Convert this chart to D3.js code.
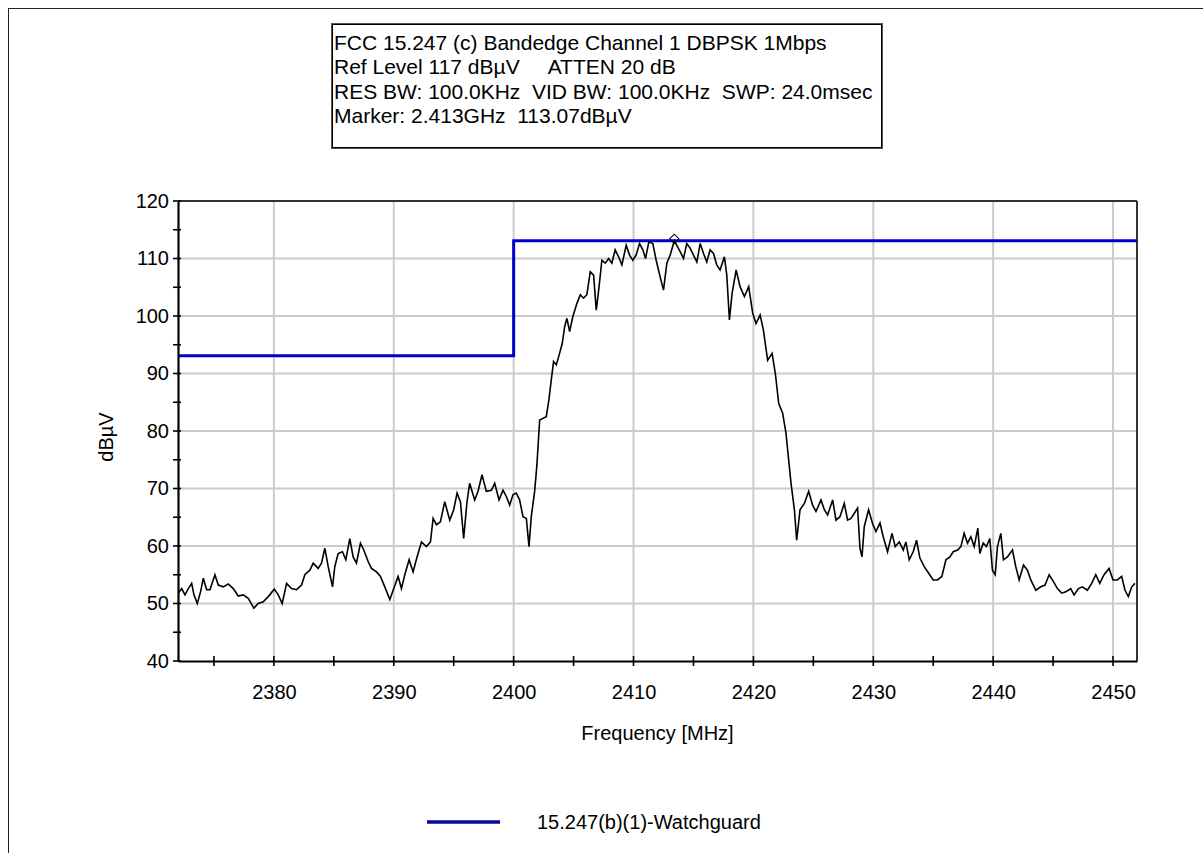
<!DOCTYPE html>
<html>
<head>
<meta charset="utf-8">
<script src="https://cdn.jsdelivr.net/npm/d3@7"></script>
<style>
  html, body { margin: 0; padding: 0; background: #fff; }
  svg { display: block; }
  text { font-family: "Liberation Sans", Arial, sans-serif; fill: #000; }
</style>
</head>
<body>
<svg id="chart" width="1203" height="853"></svg>
<script>
// ---------- data ----------
const headerLines = [
  "FCC 15.247 (c) Bandedge Channel 1 DBPSK 1Mbps",
  "Ref Level 117 dB\u00B5V     ATTEN 20 dB",
  "RES BW: 100.0KHz  VID BW: 100.0KHz  SWP: 24.0msec",
  "Marker: 2.413GHz  113.07dB\u00B5V"
];
const xTitle = "Frequency [MHz]";
const yTitle = "dB\u00B5V";
const legendLabel = "15.247(b)(1)-Watchguard";

const xDomain = [2372, 2452];
const yDomain = [40, 120];
const xTicks = [2380, 2390, 2400, 2410, 2420, 2430, 2440, 2450];
const xMinorTicks = [2375, 2385, 2395, 2405, 2415, 2425, 2435, 2445];
const yTicks = [40, 50, 60, 70, 80, 90, 100, 110, 120];
const yMinorTicks = [45, 55, 65, 75, 85, 95, 105, 115];

// measured trace: frequency (MHz)
const traceFreq = [
  2372.03, 2372.31, 2372.58, 2372.86, 2373.14, 2373.33, 2373.61, 2373.89, 2374.11, 2374.39,
  2374.67, 2375.08, 2375.36, 2375.78, 2376.19, 2376.61, 2377.03, 2377.44, 2377.86, 2378.33,
  2378.69, 2379.11, 2379.53, 2380.03, 2380.36, 2380.69, 2381.06, 2381.47, 2381.89, 2382.31,
  2382.58, 2383.00, 2383.28, 2383.69, 2383.97, 2384.25, 2384.53, 2384.89, 2385.08, 2385.36,
  2385.72, 2386.00, 2386.33, 2386.61, 2386.89, 2387.22, 2387.50, 2387.86, 2388.14, 2388.56,
  2388.89, 2389.25, 2389.67, 2390.00, 2390.36, 2390.64, 2390.92, 2391.28, 2391.61, 2391.94,
  2392.31, 2392.72, 2393.06, 2393.28, 2393.56, 2393.89, 2394.25, 2394.67, 2395.00, 2395.28,
  2395.56, 2395.83, 2396.11, 2396.33, 2396.75, 2397.03, 2397.36, 2397.72, 2398.14, 2398.42,
  2398.78, 2399.11, 2399.39, 2399.67, 2399.94, 2400.22, 2400.50, 2400.78, 2401.06, 2401.28,
  2401.47, 2401.75, 2401.94, 2402.17, 2402.44, 2402.72, 2402.94, 2403.14, 2403.33, 2403.56,
  2403.83, 2404.06, 2404.25, 2404.44, 2404.67, 2404.94, 2405.28, 2405.56, 2405.83, 2406.11,
  2406.39, 2406.67, 2406.89, 2407.11, 2407.36, 2407.64, 2407.92, 2408.19, 2408.47, 2408.75,
  2409.03, 2409.39, 2409.67, 2409.94, 2410.22, 2410.50, 2410.78, 2411.00, 2411.28, 2411.61,
  2411.89, 2412.22, 2412.50, 2412.78, 2413.06, 2413.40, 2413.61, 2413.89, 2414.17, 2414.44,
  2414.72, 2415.00, 2415.28, 2415.56, 2415.83, 2416.11, 2416.39, 2416.67, 2416.94, 2417.22,
  2417.58, 2417.78, 2418.00, 2418.22, 2418.56, 2418.89, 2419.25, 2419.61, 2419.94, 2420.22,
  2420.56, 2420.83, 2421.19, 2421.56, 2421.83, 2422.11, 2422.44, 2422.72, 2422.94, 2423.14,
  2423.42, 2423.61, 2423.89, 2424.25, 2424.61, 2424.94, 2425.22, 2425.64, 2425.92, 2426.19,
  2426.61, 2426.89, 2427.22, 2427.58, 2427.86, 2428.14, 2428.42, 2428.69, 2428.89, 2429.06,
  2429.25, 2429.61, 2429.94, 2430.22, 2430.56, 2430.83, 2431.19, 2431.56, 2431.83, 2432.17,
  2432.50, 2432.72, 2433.00, 2433.33, 2433.61, 2433.89, 2434.25, 2434.61, 2435.00, 2435.36,
  2435.72, 2436.06, 2436.39, 2436.67, 2437.03, 2437.31, 2437.58, 2437.86, 2438.14, 2438.42,
  2438.72, 2438.89, 2439.17, 2439.44, 2439.72, 2439.94, 2440.17, 2440.36, 2440.64, 2440.86,
  2441.19, 2441.61, 2441.89, 2442.17, 2442.53, 2442.86, 2443.14, 2443.56, 2443.97, 2444.33,
  2444.67, 2445.03, 2445.36, 2445.72, 2446.11, 2446.47, 2446.75, 2447.11, 2447.44, 2447.86,
  2448.22, 2448.56, 2448.89, 2449.25, 2449.67, 2450.00, 2450.36, 2450.72, 2451.00, 2451.28,
  2451.56, 2451.83
];
// measured trace: level (dBµV)
const traceLevel = [
  51.8, 52.6, 51.5, 52.6, 53.5, 51.5, 50.0, 52.1, 54.4, 52.4,
  52.4, 55.0, 53.2, 52.9, 53.4, 52.6, 51.3, 51.5, 50.9, 49.2,
  50.0, 50.3, 51.2, 52.5, 51.5, 50.0, 53.5, 52.6, 52.4, 53.2,
  55.0, 55.8, 57.0, 56.1, 57.0, 59.6, 56.4, 52.9, 56.4, 58.7,
  59.0, 57.6, 61.3, 58.1, 57.0, 60.5, 59.3, 57.3, 56.1, 55.5,
  54.7, 52.9, 50.7, 52.6, 54.7, 52.6, 55.0, 57.6, 55.5, 58.1,
  60.7, 59.9, 60.7, 64.8, 63.7, 64.2, 67.7, 64.5, 66.3, 69.2,
  67.7, 61.3, 67.7, 70.9, 68.0, 69.5, 72.4, 69.5, 69.7, 70.9,
  68.0, 69.7, 68.6, 67.1, 68.9, 69.2, 68.0, 65.1, 64.8, 59.9,
  65.1, 69.5, 74.1, 81.9, 82.2, 82.5, 85.4, 88.9, 92.1, 91.5,
  93.5, 95.3, 98.1, 99.6, 97.3, 99.9, 102.2, 103.7, 103.1, 103.7,
  107.7, 107.1, 101.0, 104.8, 109.7, 109.2, 110.0, 109.2, 111.5, 110.3,
  108.9, 112.3, 110.6, 109.7, 110.6, 112.6, 111.5, 110.0, 112.9, 112.6,
  109.7, 106.8, 104.5, 109.2, 110.6, 113.07, 112.3, 111.2, 110.0, 112.6,
  111.8, 110.6, 109.4, 112.6, 110.9, 109.4, 111.5, 110.9, 108.9, 108.0,
  110.3, 107.1, 99.3, 103.9, 108.0, 105.1, 103.4, 105.1, 100.5, 98.7,
  100.2, 97.6, 92.3, 93.5, 90.0, 84.8, 83.1, 79.6, 75.0, 70.9,
  66.3, 61.0, 66.3, 67.4, 69.5, 67.1, 66.0, 68.0, 66.3, 65.4,
  68.0, 64.5, 65.1, 67.4, 64.5, 64.8, 65.7, 66.6, 59.6, 58.1,
  63.4, 66.3, 63.9, 62.5, 64.0, 61.6, 59.0, 62.2, 59.9, 60.7,
  59.3, 60.7, 57.6, 59.0, 61.0, 57.9, 56.4, 55.3, 54.1, 54.1,
  54.7, 57.6, 58.1, 59.0, 59.3, 59.9, 62.2, 60.5, 61.6, 59.9,
  63.1, 58.7, 60.5, 59.9, 61.3, 55.8, 55.0, 59.9, 62.2, 57.6,
  58.1, 59.3, 56.4, 54.1, 56.7, 55.8, 54.1, 52.3, 52.9, 53.2,
  55.0, 53.8, 52.6, 51.8, 52.1, 52.6, 51.5, 52.6, 52.9, 52.3,
  53.5, 55.0, 53.5, 55.0, 56.1, 54.1, 54.1, 54.7, 52.3, 51.2,
  52.9, 53.5
];

// limit line (15.247(b)(1)-Watchguard)
const limitFreq = [2372, 2400, 2400, 2452];
const limitLevel = [93.07, 93.07, 113.07, 113.07];

// marker
const markerFreq = 2413.4;
const markerLevel = 113.07;

// ---------- layout ----------
const svg = d3.select("#chart");
const plot = { left: 178, top: 201, right: 1137, bottom: 661 };
const x = d3.scaleLinear().domain(xDomain).range([plot.left, plot.right]);
const y = d3.scaleLinear().domain(yDomain).range([plot.bottom, plot.top]);

// outer frame (left & top edges visible)
svg.append("line").attr("x1", 8.5).attr("x2", 8.5).attr("y1", 8).attr("y2", 853)
  .attr("stroke", "#222").attr("stroke-width", 1);
svg.append("line").attr("x1", 8).attr("x2", 1203).attr("y1", 8.5).attr("y2", 8.5)
  .attr("stroke", "#222").attr("stroke-width", 1);

// header box
const hb = { x: 331, y: 23, w: 551, h: 125 };
svg.append("rect").attr("x", hb.x + 0.5).attr("y", hb.y + 0.5)
  .attr("width", hb.w).attr("height", hb.h)
  .attr("fill", "#fff").attr("stroke", "#555").attr("stroke-width", 1);
svg.append("rect").attr("x", hb.x + 1.5).attr("y", hb.y + 1.5)
  .attr("width", hb.w - 2).attr("height", hb.h - 2)
  .attr("fill", "none").attr("stroke", "#000").attr("stroke-width", 1);
svg.append("g").selectAll("text").data(headerLines).join("text")
  .attr("x", hb.x + 3)
  .attr("y", (d, i) => 50 + i * 24.3)
  .attr("font-size", 21)
  .attr("xml:space", "preserve")
  .style("white-space", "pre")
  .text(d => d);

// grid
const grid = svg.append("g");
grid.selectAll("line.gx").data(xTicks).join("line")
  .attr("x1", d => x(d)).attr("x2", d => x(d))
  .attr("y1", plot.top).attr("y2", plot.bottom)
  .attr("stroke", "#cccccc").attr("stroke-width", 2);
grid.selectAll("line.gy").data(yTicks.filter(v => v > yDomain[0] && v < yDomain[1])).join("line")
  .attr("x1", plot.left).attr("x2", plot.right)
  .attr("y1", d => y(d)).attr("y2", d => y(d))
  .attr("stroke", "#cccccc").attr("stroke-width", 2);

// plot frame (top/right)
svg.append("line").attr("x1", plot.left).attr("x2", plot.right).attr("y1", plot.top).attr("y2", plot.top)
  .attr("stroke", "#333").attr("stroke-width", 2);
svg.append("line").attr("x1", plot.right).attr("x2", plot.right).attr("y1", plot.top).attr("y2", plot.bottom)
  .attr("stroke", "#333").attr("stroke-width", 2);

// limit line
const limitData = limitFreq.map((f, i) => [f, limitLevel[i]]);
svg.append("path").datum(limitData)
  .attr("fill", "none").attr("stroke", "#0000cc").attr("stroke-width", 3)
  .attr("d", d3.line().x(d => x(d[0])).y(d => y(d[1])));

// trace
const traceData = traceFreq.map((f, i) => [f, traceLevel[i]]);
svg.append("path").datum(traceData)
  .attr("fill", "none").attr("stroke", "#000").attr("stroke-width", 1.6)
  .attr("stroke-linejoin", "miter")
  .attr("d", d3.line().x(d => x(d[0])).y(d => y(d[1])));

// marker diamond
svg.append("path")
  .attr("transform", `translate(${x(markerFreq)},${y(markerLevel) - 2}) rotate(45)`)
  .attr("d", d3.symbol().type(d3.symbolSquare).size(42)())
  .attr("fill", "none").attr("stroke", "#000").attr("stroke-width", 1);

// axes
const fmt = d3.format("d");
const xAxisG = svg.append("g").attr("transform", `translate(0,${plot.bottom})`);
xAxisG.call(d3.axisBottom(x).tickValues(xTicks).tickFormat(fmt).tickSizeInner(0).tickSizeOuter(0).tickPadding(24));
xAxisG.select(".domain").attr("stroke", "#000").attr("stroke-width", 2.2);
xAxisG.selectAll("text").attr("font-size", 20).attr("font-family", "Liberation Sans, Arial, sans-serif").attr("fill", "#000");
xAxisG.selectAll("line.tk").data(xTicks.concat(xMinorTicks)).join("line").attr("class", "tk")
  .attr("x1", d => x(d)).attr("x2", d => x(d)).attr("y1", -5).attr("y2", 5)
  .attr("stroke", "#000").attr("stroke-width", 1.6);

const yAxisG = svg.append("g").attr("transform", `translate(${plot.left},0)`);
yAxisG.call(d3.axisLeft(y).tickValues(yTicks).tickFormat(fmt).tickSizeInner(0).tickSizeOuter(0).tickPadding(9));
yAxisG.select(".domain").attr("stroke", "#000").attr("stroke-width", 2.2);
yAxisG.selectAll("text").attr("font-size", 20).attr("font-family", "Liberation Sans, Arial, sans-serif").attr("fill", "#000");
yAxisG.selectAll("line.tk").data(yTicks.concat(yMinorTicks)).join("line").attr("class", "tk")
  .attr("y1", d => y(d)).attr("y2", d => y(d)).attr("x1", -5).attr("x2", 3)
  .attr("stroke", "#000").attr("stroke-width", 1.6);

// axis titles
svg.append("text").attr("x", (plot.left + plot.right) / 2).attr("y", 740)
  .attr("text-anchor", "middle").attr("font-size", 20).text(xTitle);
svg.append("text")
  .attr("transform", `translate(113,${(plot.top + plot.bottom) / 2 + 6}) rotate(-90)`)
  .attr("text-anchor", "middle").attr("font-size", 20).text(yTitle);

// legend
svg.append("line").attr("x1", 427).attr("x2", 500).attr("y1", 822).attr("y2", 822)
  .attr("stroke", "#0a0a99").attr("stroke-width", 3.5);
svg.append("text").attr("x", 537).attr("y", 829).attr("font-size", 20).text(legendLabel);
</script>
</body>
</html>
